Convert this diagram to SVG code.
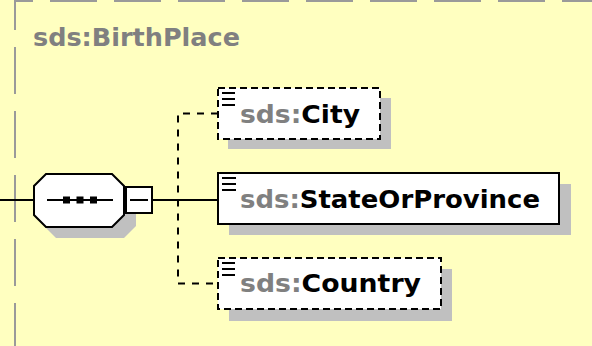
<svg xmlns="http://www.w3.org/2000/svg" width="592" height="346" viewBox="0 0 592 346">
<style>
.bd{stroke:#9a9a9a;stroke-width:2;fill:none}
.ln{stroke:#000;stroke-width:2;fill:none}
.dl{stroke:#000;stroke-width:2;fill:none;stroke-dasharray:7 7}
.sh{fill:#c0c0c0}
.box{fill:#fff;stroke:#000;stroke-width:2}
.dbox{fill:#fff;stroke:#000;stroke-width:2;stroke-dasharray:7 4}
.t{font-family:"DejaVu Sans","Liberation Sans",sans-serif;font-weight:bold;font-size:25px;fill:#000}
.g{fill:#808080}
.ic{stroke:#000;stroke-width:2}
</style>
<rect width="592" height="346" fill="#ffffc0"/>
<g id="container">
<line class="bd" x1="15" y1="1" x2="592" y2="1" stroke-dasharray="47 17" stroke-dashoffset="29"/>
<line class="bd" x1="15" y1="0" x2="15" y2="346" stroke-dasharray="47 17" stroke-dashoffset="17"/>
<text class="t g" x="33" y="46" textLength="207" lengthAdjust="spacingAndGlyphs">sds:BirthPlace</text>
</g>
<g id="connectors">
<line class="ln" x1="0" y1="200" x2="34" y2="200"/>
<line class="ln" x1="152" y1="200" x2="218" y2="200"/>
<path class="dl" d="M218 113.5 H178 V283.5 H218"/>
</g>
<g id="sequence">
<polygon class="sh" points="56,185 124,185 136,197 136,226 124,238 56,238 44,226 44,197"/>
<polygon class="box" points="46,174 112,174 124,186 124,215 112,227 46,227 34,215 34,186"/>
<line class="ln" x1="47" y1="200" x2="113" y2="200"/>
<rect x="63" y="196.5" width="7" height="7"/>
<rect x="76.5" y="196.5" width="7" height="7"/>
<rect x="90" y="196.5" width="7" height="7"/>
<rect class="box" x="126" y="187" width="26" height="26"/>
<line class="ln" x1="130" y1="200" x2="148" y2="200"/>
</g>
<g id="City">
<rect class="sh" x="228" y="98" width="163" height="51"/>
<rect class="dbox" x="218" y="88" width="162" height="51"/>
<path class="ic" d="M222 93h13M222 99h13M222 105h13"/>
<text class="t" x="240" y="123" textLength="120" lengthAdjust="spacingAndGlyphs"><tspan class="g">sds:</tspan>City</text>
</g>
<g id="StateOrProvince">
<rect class="sh" x="229" y="184" width="342" height="51"/>
<rect class="box" x="218" y="173" width="341" height="51"/>
<path class="ic" d="M222 178h14M222 184h14M222 190h14"/>
<text class="t" x="240" y="208" textLength="300" lengthAdjust="spacingAndGlyphs"><tspan class="g">sds:</tspan>StateOrProvince</text>
</g>
<g id="Country">
<rect class="sh" x="229" y="269" width="223" height="52"/>
<rect class="dbox" x="218" y="258" width="223" height="51"/>
<path class="ic" d="M222 263h13M222 269h13M222 275h13"/>
<text class="t" x="240" y="292" textLength="181" lengthAdjust="spacingAndGlyphs"><tspan class="g">sds:</tspan>Country</text>
</g>
</svg>
